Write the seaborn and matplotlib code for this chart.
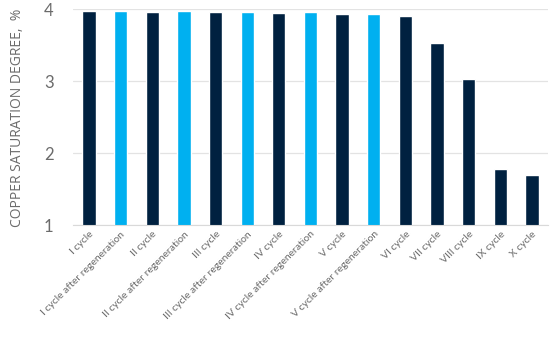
import seaborn as sns
import pandas as pd
from matplotlib import pyplot as plt

# data
stages = ['I cycle', 'I cycle after regeneration', 'II cycle', 'II cycle after regeneration',
          'III cycle', 'III cycle after regeneration', 'IV cycle', 'IV cycle after regeneration',
          'V cycle', 'V cycle after regeneration', 'VI cycle', 'VII cycle', 'VIII cycle',
          'IX cycle', 'X cycle']
saturation = [3.98, 3.98, 3.97, 3.98, 3.97, 3.97, 3.95, 3.97, 3.93, 3.94, 3.91, 3.54, 3.04, 1.78, 1.70]
regenerated = [False, True, False, True, False, True, False, True, False, True,
               False, False, False, False, False]

dark = '#002140'
light = '#00B0F0'
grey = '#6b6b6b'

df = pd.DataFrame({'stage': stages, 'value': saturation})
colors = [light if r else dark for r in regenerated]

sns.set_style('white')
plt.rcParams['font.family'] = ['Lato', 'DejaVu Sans']

fig = plt.figure(figsize=(5.5, 3.37), dpi=100)
ax = fig.add_axes([0.133, 0.331, 0.863, 0.641])
sns.barplot(data=df, x='stage', y='value', hue='stage', palette=colors,
            legend=False, width=0.42, saturation=1, ax=ax)

ax.set_ylim(1, 4)
ax.set_yticks([1, 2, 3, 4])
ax.yaxis.grid(True, color='#e3e3e3', linewidth=0.9)
ax.set_axisbelow(True)
for s in ['left', 'right', 'top']:
    ax.spines[s].set_visible(False)
ax.spines['bottom'].set_color('#d9d9d9')
ax.set_xlim(-0.5, len(stages) - 0.5)

ax.set_xlabel('')
ax.set_ylabel('COPPER SATURATION DEGREE,  %', fontsize=10, color=grey,
              family=['Open Sans', 'DejaVu Sans'], labelpad=14)
ax.tick_params(axis='y', labelsize=12, colors=grey, length=0, pad=14)
ax.tick_params(axis='x', labelsize=7.5, colors=grey, length=0, pad=3)
plt.setp(ax.get_xticklabels(), rotation=45, ha='right', rotation_mode='anchor')

plt.savefig('out.png')
